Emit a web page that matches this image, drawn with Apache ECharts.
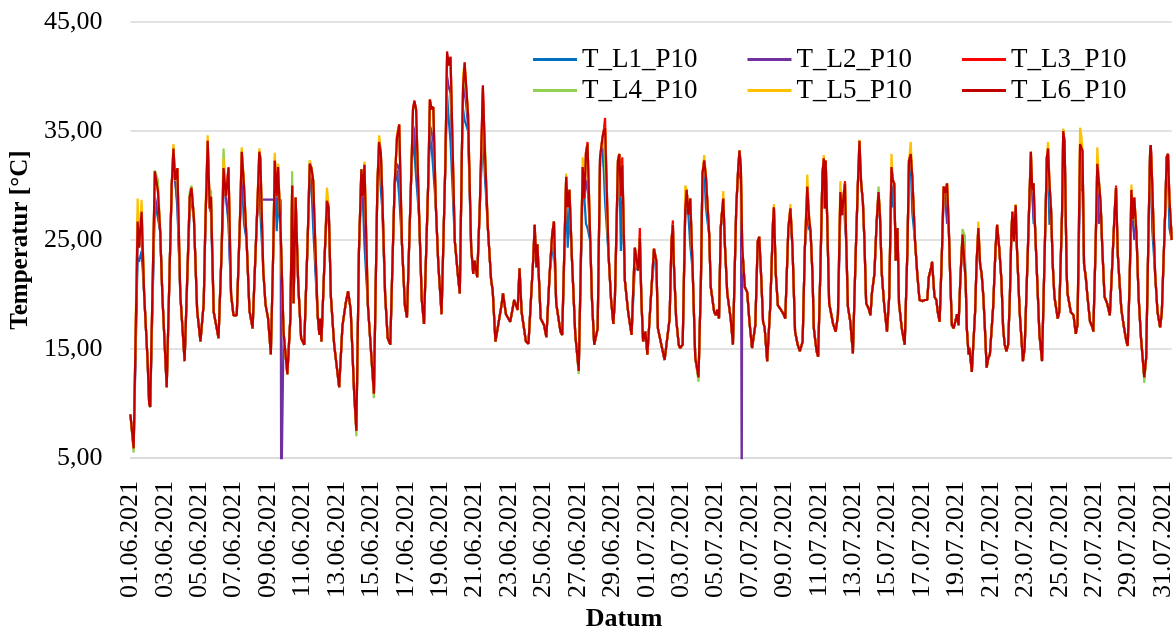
<!DOCTYPE html>
<html>
<head>
<meta charset="utf-8">
<title>Temperatur P10</title>
<script src="https://cdn.jsdelivr.net/npm/echarts@6/dist/echarts.min.js"></script>
<style>
  html, body { margin: 0; padding: 0; background: #fff; }
  #chart { width: 1176px; height: 637px; }
</style>
</head>
<body>
<div id="chart"></div>
<script>
// x = days since 01.06.2021 00:00, y = °C
const seriesNames = ["T_L1_P10", "T_L2_P10", "T_L3_P10", "T_L4_P10", "T_L5_P10", "T_L6_P10"];
const seriesColors = ["#0070C0", "#7030A0", "#FF0000", "#92D050", "#FFC000", "#C00000"];

const dateLabels = [
    "01.06.2021", "03.06.2021", "05.06.2021", "07.06.2021", "09.06.2021", "11.06.2021",
    "13.06.2021", "15.06.2021", "17.06.2021", "19.06.2021", "21.06.2021", "23.06.2021",
    "25.06.2021", "27.06.2021", "29.06.2021", "01.07.2021", "03.07.2021", "05.07.2021",
    "07.07.2021", "09.07.2021", "11.07.2021", "13.07.2021", "15.07.2021", "17.07.2021",
    "19.07.2021", "21.07.2021", "23.07.2021", "25.07.2021", "27.07.2021", "29.07.2021",
    "31.07.2021",
];

// T_L6_P10, the curve the other sensors follow
const courseL6 = [
    [0, 9.0], [0.19, 5.9], [0.42, 26.7], [0.5, 24.3], [0.65, 27.6], [0.8, 20.0],
    [1.0, 13.9], [1.09, 10.0], [1.15, 9.7], [1.42, 31.3], [1.6, 29.5], [1.73, 25.8], [1.86, 19.8],
    [2.11, 11.5], [2.4, 30.0], [2.5, 33.4], [2.6, 30.5], [2.73, 31.6], [2.9, 20.0],
    [3.15, 13.9], [3.45, 29.0], [3.55, 29.8], [3.69, 27.0], [3.88, 18.5],
    [4.07, 15.7], [4.26, 19.2], [4.36, 26.7], [4.49, 34.1], [4.61, 27.9], [4.68, 29.0], [4.84, 18.4],
    [5.12, 16.0], [5.3, 24.0], [5.41, 31.6], [5.55, 29.0], [5.7, 31.6], [5.85, 20.0],
    [5.99, 18.1], [6.18, 18.1], [6.35, 26.0], [6.47, 33.1], [6.6, 30.0], [6.75, 25.0], [6.92, 18.5],
    [7.1, 16.9], [7.35, 27.0], [7.49, 33.1], [7.55, 32.5], [7.72, 22.2], [7.85, 19.1],
    [8.0, 17.8], [8.16, 14.5], [8.3, 24.0], [8.39, 32.3], [8.5, 29.0], [8.58, 31.7], [8.73, 25.8], [8.9, 16.5],
    [9.12, 12.7], [9.3, 18.0], [9.4, 30.0], [9.48, 19.2], [9.6, 28.9], [9.75, 21.0], [9.92, 16.0],
    [10.1, 15.4], [10.3, 25.0], [10.42, 32.0], [10.52, 31.6], [10.62, 30.5], [10.88, 18.1], [10.98, 16.3], [11.04, 17.8],
    [11.1, 15.7], [11.3, 24.0], [11.42, 28.6], [11.52, 28.0], [11.65, 19.8], [11.84, 15.4],
    [12.13, 11.5], [12.32, 17.1], [12.51, 19.2], [12.65, 20.3], [12.8, 18.6], [13.0, 11.0],
    [13.13, 7.5], [13.28, 24.0], [13.42, 31.5], [13.5, 29.0], [13.6, 31.9], [13.8, 19.0],
    [14.15, 10.9], [14.35, 30.0], [14.45, 34.0], [14.55, 33.0], [14.63, 29.4], [14.8, 20.0], [14.95, 16.0],
    [15.1, 15.4], [15.35, 30.0], [15.49, 34.4], [15.62, 35.6], [15.78, 24.6], [15.95, 19.0],
    [16.07, 17.9], [16.3, 30.0], [16.42, 37.0], [16.5, 37.7], [16.6, 37.0], [16.78, 27.0], [16.93, 19.5],
    [17.06, 17.3], [17.3, 30.0], [17.4, 37.9], [17.5, 37.0], [17.6, 37.2], [17.75, 28.0], [17.89, 22.8],
    [18.08, 18.2], [18.3, 32.0], [18.4, 42.3], [18.5, 41.0], [18.6, 41.8], [18.85, 24.9], [19.04, 21.6],
    [19.14, 20.1], [19.28, 35.0], [19.33, 39.0], [19.42, 41.3], [19.62, 36.5], [19.8, 24.3], [19.92, 21.9], [20.0, 23.1],
    [20.15, 21.6], [20.3, 28.0], [20.48, 39.2], [20.6, 33.0], [20.77, 26.1], [20.96, 21.3], [21.05, 20.4],
    [21.21, 15.7], [21.38, 17.3], [21.57, 19.1], [21.65, 20.1], [21.82, 18.2],
    [22.07, 17.5], [22.3, 19.5], [22.5, 18.6], [22.61, 22.4], [22.73, 18.4], [22.98, 15.7],
    [23.13, 15.5], [23.4, 23.1], [23.49, 26.4], [23.59, 22.5], [23.65, 24.6], [23.84, 17.8], [24.03, 17.2],
    [24.17, 16.1], [24.36, 21.9], [24.51, 25.6], [24.61, 26.7], [24.74, 19.2], [24.99, 16.6],
    [25.09, 16.3], [25.32, 30.8], [25.41, 28.0], [25.51, 29.6], [25.66, 23.1], [25.85, 16.3],
    [26.05, 13.0], [26.28, 31.7], [26.38, 28.8], [26.47, 33.0], [26.56, 33.8], [26.72, 24.9], [26.82, 19.5], [26.95, 15.4],
    [27.15, 16.9], [27.29, 32.6], [27.43, 34.4], [27.5, 35.0], [27.58, 35.3], [27.78, 23.7], [27.93, 19.5],
    [28.06, 17.3], [28.15, 19.5], [28.33, 32.3], [28.41, 32.9], [28.5, 29.0], [28.58, 31.9], [28.73, 21.3], [28.92, 18.4],
    [29.12, 16.3], [29.31, 24.3], [29.5, 22.2], [29.6, 25.2], [29.69, 19.5], [29.79, 15.7], [29.92, 16.6],
    [30.04, 14.5], [30.27, 20.4], [30.42, 24.2], [30.56, 23.1], [30.65, 16.9], [30.85, 15.4],
    [31.04, 14.0], [31.33, 17.8], [31.44, 24.9], [31.52, 26.4], [31.57, 23.1], [31.71, 17.8], [31.86, 15.4], [31.94, 15.1],
    [32.09, 15.4], [32.24, 27.9], [32.32, 29.6], [32.42, 27.3], [32.53, 28.8], [32.67, 22.2], [32.82, 14.2],
    [33.01, 12.4], [33.15, 21.3], [33.24, 31.1], [33.34, 32.3], [33.44, 30.8], [33.53, 30.8], [33.63, 25.5], [33.72, 20.7], [33.92, 18.4],
    [34.02, 18.1], [34.1, 18.6], [34.2, 17.8], [34.3, 26.1], [34.36, 27.3], [34.45, 28.8], [34.55, 24.3], [34.68, 20.1], [34.88, 17.8],
    [35.01, 15.4], [35.2, 27.9], [35.32, 31.7], [35.39, 33.2], [35.47, 31.7], [35.55, 24.3], [35.7, 20.7], [35.84, 20.2], [35.97, 17.5],
    [36.12, 15.1], [36.31, 17.2], [36.45, 24.9], [36.54, 25.3], [36.66, 21.3], [36.76, 17.5], [36.85, 17.0],
    [37.0, 13.9], [37.18, 19.0], [37.34, 26.7], [37.39, 28.0], [37.5, 21.9], [37.62, 19.0], [37.76, 18.7], [37.95, 18.2],
    [38.05, 17.8], [38.23, 26.1], [38.35, 27.9], [38.47, 24.3], [38.62, 16.6], [38.77, 15.4], [38.9, 14.8],
    [39.06, 15.7], [39.19, 24.3], [39.33, 29.9], [39.44, 26.9], [39.52, 25.8], [39.63, 21.9], [39.71, 16.9], [39.87, 14.8], [39.96, 14.3],
    [40.1, 22.8], [40.21, 31.1], [40.29, 32.5], [40.35, 27.9], [40.4, 32.3], [40.48, 27.3], [40.6, 19.2], [40.83, 17.3], [40.98, 16.6],
    [41.11, 18.1], [41.25, 29.4], [41.36, 27.3], [41.44, 29.1], [41.52, 30.2], [41.59, 24.9], [41.69, 18.9], [41.83, 17.5], [41.98, 14.6],
    [42.13, 23.1], [42.27, 30.2], [42.36, 34.1], [42.46, 30.2], [42.56, 28.5], [42.65, 24.9], [42.75, 19.2], [42.9, 18.7], [43.0, 18.1],
    [43.09, 20.2], [43.23, 21.9], [43.36, 26.7], [43.47, 29.4], [43.55, 27.3], [43.66, 21.9], [43.8, 19.0], [43.96, 16.6],
    [44.09, 19.8], [44.22, 31.7], [44.3, 30.5], [44.38, 30.2], [44.47, 23.1], [44.57, 26.1], [44.66, 19.2], [44.82, 16.9], [44.99, 15.4],
    [45.15, 24.3], [45.24, 32.3], [45.34, 32.9], [45.43, 30.8], [45.59, 24.9], [45.72, 21.9], [45.85, 19.5], [46.0, 19.4],
    [46.16, 19.5], [46.3, 19.5], [46.39, 21.6], [46.53, 22.5], [46.58, 23.0], [46.72, 19.8], [46.83, 19.5], [46.91, 18.4],
    [47.02, 17.5], [47.16, 24.3], [47.25, 29.9], [47.35, 29.3], [47.45, 30.2], [47.54, 26.7], [47.64, 21.3], [47.73, 17.2], [47.83, 16.9], [47.93, 17.5],
    [48.03, 18.2], [48.12, 17.2], [48.22, 21.3], [48.35, 25.5], [48.45, 25.5], [48.53, 21.3], [48.6, 16.9], [48.7, 14.5], [48.75, 15.1], [48.89, 12.9],
    [49.08, 18.4], [49.17, 23.1], [49.27, 26.1], [49.37, 22.8], [49.46, 21.9], [49.56, 19.8], [49.65, 16.9], [49.75, 13.3], [49.85, 14.2], [49.94, 14.5],
    [50.13, 18.9], [50.27, 24.3], [50.36, 26.4], [50.48, 24.3], [50.61, 21.3], [50.71, 16.9], [50.8, 15.4], [50.9, 14.8], [51.0, 15.4],
    [51.1, 19.8], [51.19, 25.8], [51.25, 27.6], [51.33, 24.9], [51.44, 28.2], [51.51, 24.3], [51.67, 18.4], [51.86, 13.9], [51.96, 15.1],
    [52.15, 24.3], [52.25, 29.6], [52.32, 33.1], [52.4, 29.6], [52.48, 30.2], [52.55, 26.7], [52.69, 21.3], [52.82, 16.3], [52.97, 13.9],
    [53.13, 24.3], [53.25, 32.6], [53.32, 33.4], [53.4, 30.2], [53.49, 27.9], [53.59, 22.8], [53.69, 19.8], [53.78, 19.8], [53.88, 17.8], [53.97, 18.4],
    [54.13, 27.3], [54.2, 35.0], [54.28, 34.0], [54.4, 22.0], [54.45, 20.1], [54.64, 18.4], [54.8, 18.1], [54.93, 16.4],
    [55.03, 17.2], [55.18, 33.8], [55.26, 33.8], [55.32, 33.2], [55.41, 22.8], [55.51, 21.6], [55.61, 19.8], [55.76, 17.5], [55.9, 17.0], [55.95, 16.6],
    [56.08, 24.3], [56.18, 32.0], [56.28, 30.2], [56.37, 28.5], [56.47, 24.3], [56.6, 19.8], [56.75, 19.2], [56.91, 18.1],
    [57.05, 22.8], [57.18, 27.3], [57.27, 29.8], [57.37, 23.7], [57.49, 20.7], [57.58, 18.6], [57.71, 17.2], [57.87, 15.7], [57.95, 15.3],
    [58.06, 21.3], [58.16, 29.6], [58.25, 26.9], [58.33, 28.9], [58.45, 25.8], [58.58, 19.8], [58.72, 16.0], [58.83, 13.9], [58.91, 12.4], [59.02, 14.2],
    [59.16, 26.1], [59.25, 33.2], [59.29, 33.7], [59.37, 30.2], [59.45, 26.1], [59.54, 21.9], [59.68, 18.4], [59.83, 17.0], [59.93, 18.4],
    [60.12, 27.3], [60.21, 32.6], [60.29, 32.9], [60.37, 28.8], [60.47, 26.1], [60.5, 25.0],
];

// where the other sensors leave the L6 curve (mostly the daily peaks)
const peaksL1 = [
    [0.42, 23.4], [0.5, 23.0], [0.65, 24.0], [1.42, 28.5], [1.6, 27.0], [2.5, 32.5], [2.73, 28.0],
    [3.45, 28.0], [3.55, 28.5], [4.49, 33.0], [4.68, 27.5], [5.41, 29.5], [5.7, 26.5], [6.47, 31.0], [6.6, 26.5],
    [7.49, 30.5], [7.55, 27.5], [8.39, 31.5], [8.5, 25.8], [8.58, 29.0], [9.4, 29.0], [9.6, 27.5],
    [10.42, 31.0], [10.52, 30.0], [10.62, 26.1], [11.42, 27.5], [13.42, 30.0], [13.6, 24.5],
    [14.45, 33.0], [14.55, 29.5], [14.63, 28.0], [15.49, 31.4], [15.62, 29.0],
    [16.42, 34.7], [16.5, 33.0], [16.6, 30.8], [17.4, 34.7], [17.5, 33.5], [17.6, 31.4],
    [18.4, 38.3], [18.5, 36.0], [18.6, 34.0], [19.33, 37.0], [19.42, 36.0], [19.62, 35.0],
    [20.48, 34.7], [20.6, 30.8], [23.49, 25.0], [24.51, 24.0], [24.61, 24.5],
    [25.32, 29.5], [25.41, 24.3], [25.51, 28.0], [26.28, 30.5], [26.47, 26.5], [26.56, 26.1],
    [27.43, 33.0], [27.5, 31.5], [27.58, 28.5], [28.33, 31.0], [28.41, 31.5], [28.5, 24.0], [28.58, 29.0],
    [29.31, 22.5], [29.6, 24.5], [30.42, 23.0], [31.52, 25.0], [32.32, 28.0], [32.53, 24.5],
    [33.34, 31.5], [33.44, 28.0], [33.53, 26.7], [34.45, 27.5], [35.39, 31.0], [35.47, 30.5],
    [36.54, 24.5], [37.39, 27.5], [38.35, 27.0], [39.33, 28.0], [39.44, 26.0], [40.29, 31.5], [40.4, 31.0],
    [41.25, 28.0], [41.52, 27.5], [42.36, 33.0], [43.47, 28.0], [44.22, 30.0], [44.3, 28.0],
    [45.34, 32.0], [45.43, 27.5], [47.25, 29.0], [47.45, 27.0], [48.35, 25.0], [49.27, 25.0], [50.36, 25.5],
    [51.25, 26.5], [51.44, 26.0], [52.32, 30.5], [52.48, 26.5], [53.32, 31.5], [53.4, 26.4], [54.2, 33.5],
    [55.18, 32.0], [55.26, 30.0], [55.32, 29.5], [56.18, 30.0], [56.28, 26.5], [57.27, 29.0],
    [58.16, 28.0], [58.33, 25.5], [59.29, 32.0], [59.37, 26.0], [60.29, 31.0], [60.37, 26.1],
];
const peaksL2 = [
    [0.42, 25.0], [0.65, 25.5], [1.42, 29.0], [1.6, 27.5], [2.5, 32.8], [2.73, 28.5], [4.49, 33.5],
    [5.41, 30.0], [5.7, 27.0], [6.47, 31.5], [6.6, 28.0],
    // sensor stuck at 28,7 °C
    [7.49, 28.7], [7.55, 28.7], [7.72, 28.7], [7.85, 28.7], [8.0, 28.7], [8.16, 28.7], [8.3, 28.7],
    [8.39, 28.7], [8.5, 28.7], [8.58, 28.7], [8.73, 28.7],
    [10.62, 28.0], [13.6, 27.0], [15.49, 32.0], [15.62, 31.5], [16.42, 35.5], [16.5, 35.0], [16.6, 33.0],
    [17.4, 35.5], [17.5, 35.0], [17.6, 34.0], [18.4, 40.0], [18.5, 39.0], [18.6, 38.5],
    [19.33, 38.0], [19.42, 39.0], [19.62, 35.5], [20.48, 36.5], [20.6, 32.0], [26.47, 30.0], [26.56, 30.5],
    [27.43, 33.5], [27.5, 33.0], [27.58, 31.5], [39.33, 27.0], [41.25, 27.5], [41.52, 26.5], [42.36, 32.5],
    [47.25, 29.0], [47.45, 26.5], [51.44, 26.0], [52.32, 31.0], [52.48, 27.0], [53.32, 31.0],
    [55.18, 31.0], [55.26, 29.5], [56.28, 26.5], [58.16, 27.5], [58.33, 25.0],
];
const dropoutsL2 = [[8.76, 0], [35.52, 0]];
const peaksL3 = [
    [0.65, 27.8], [5.7, 31.7], [13.6, 32.0], [15.62, 35.6], [16.5, 37.8], [18.4, 42.0], [19.42, 41.0],
    [20.48, 39.0], [26.56, 34.0], [27.58, 36.2], [28.58, 32.6], [29.6, 26.1], [31.52, 26.8],
    [41.52, 30.4], [44.22, 31.5], [57.27, 30.0], [59.29, 33.7],
];
const peaksL4 = [
    [0.19, 5.5], [0.42, 27.5], [0.65, 28.2], [1.42, 31.4], [1.6, 30.5], [2.5, 33.6], [2.73, 30.5],
    [3.45, 29.5], [3.55, 30.0], [4.68, 29.6], [5.41, 33.4], [5.7, 30.5], [6.47, 33.3],
    [8.39, 32.6], [8.58, 32.0], [9.4, 31.3], [10.42, 32.3], [11.42, 29.3], [13.13, 7.0], [14.15, 10.5],
    [14.45, 34.5], [15.49, 34.6], [15.62, 34.8], [16.5, 37.2], [17.4, 37.5], [18.4, 41.5], [18.6, 41.3],
    [19.42, 40.0], [20.48, 37.5], [20.6, 34.0], [26.05, 12.7], [27.58, 35.0], [33.01, 12.0],
    [39.33, 29.5], [43.47, 29.9], [48.35, 26.0], [54.2, 35.2], [56.28, 30.5], [58.33, 27.3],
    [58.91, 11.9], [59.29, 33.0], [60.29, 31.5],
];
const peaksL5 = [
    [0.42, 28.8], [0.65, 28.7], [1.42, 30.8], [2.5, 33.8], [4.36, 27.7], [4.49, 34.6], [5.41, 32.5],
    [6.47, 33.5], [7.49, 33.4], [8.39, 33.0], [8.58, 32.0], [10.42, 32.3], [11.42, 29.8], [13.6, 32.2],
    [14.45, 34.6], [15.49, 34.8], [16.5, 37.5], [18.4, 41.8], [19.33, 40.2], [20.48, 38.0],
    [23.49, 26.0], [25.32, 31.1], [26.28, 32.6], [28.33, 32.5], [32.24, 30.0], [33.34, 32.8],
    [34.45, 29.5], [37.39, 28.3], [38.35, 28.3], [39.33, 31.0], [40.29, 32.8], [41.25, 30.4],
    [42.36, 34.2], [44.22, 32.9], [45.34, 34.0], [49.27, 26.7], [51.44, 28.3], [53.32, 34.0],
    [54.2, 35.2], [55.18, 35.3], [55.26, 34.5], [56.18, 33.5], [58.16, 30.1], [59.29, 33.5],
];

function withPeaks(peaks, extra = []) {
    const m = new Map(peaks);
    return courseL6
        .map(([t, v]) => [t, m.has(t) ? m.get(t) : v])
        .concat(extra)
        .sort((a, b) => a[0] - b[0]);
}

const seriesData = [
    withPeaks(peaksL1),
    withPeaks(peaksL2, dropoutsL2),
    withPeaks(peaksL3),
    withPeaks(peaksL4),
    withPeaks(peaksL5),
    courseL6,
];

const font = "'Liberation Serif', 'Times New Roman', serif";

const chart = echarts.init(document.getElementById("chart"));
const legendBase = {
    orient: "horizontal",
    left: 528,
    itemWidth: 44,
    itemHeight: 3,
    itemGap: 50,
    icon: "rect",
    textStyle: { color: "#000", fontSize: 27, fontFamily: font },
};

const option = {
    backgroundColor: "#fff",
    animation: false,
    textStyle: { fontFamily: font },
    legend: [
        { ...legendBase, top: 41, data: seriesNames.slice(0, 3) },
        { ...legendBase, top: 72, data: seriesNames.slice(3) },
    ],
    grid: {
        left: 126,
        right: 0,
        top: 22,
        bottom: 169,
        containLabel: false,
    },
    xAxis: {
        type: "value",
        min: 0,
        max: 60.5,
        interval: 2,
        name: "Datum",
        nameLocation: "middle",
        nameGap: 144,
        nameTextStyle: {
            color: "#000",
            fontSize: 26,
            fontWeight: "bold",
            fontFamily: font,
            padding: [0, 54, 0, 0],
        },
        axisLine: { show: true, lineStyle: { color: "#d9d9d9", width: 1.5 } },
        axisTick: { show: false },
        splitLine: { show: false },
        axisLabel: {
            rotate: 90,
            margin: 23,
            color: "#000",
            fontSize: 26,
            fontFamily: font,
            showMaxLabel: false,
            formatter(value) {
                return dateLabels[value / 2] || "";
            },
        },
    },
    yAxis: {
        type: "value",
        min: 5,
        max: 45,
        interval: 10,
        name: "Temperatur [°C]",
        nameLocation: "middle",
        nameRotate: 90,
        nameGap: 90,
        nameTextStyle: {
            color: "#000",
            fontSize: 25,
            fontWeight: "bold",
            fontFamily: font,
        },
        axisLine: { show: false },
        axisTick: { show: false },
        axisLabel: {
            margin: 28,
            color: "#000",
            fontSize: 26,
            fontFamily: font,
            formatter(value) {
                return value.toFixed(2).replace(".", ",");
            },
        },
        splitLine: { lineStyle: { color: "#d9d9d9", width: 1.5 } },
    },
    series: seriesNames.map((name, i) => ({
        name,
        type: "line",
        data: seriesData[i],
        showSymbol: false,
        symbol: "none",
        clip: true,
        color: seriesColors[i],
        lineStyle: { color: seriesColors[i], width: 2.2 },
        z: 2 + i,
    })),
};
chart.setOption(option);
</script>
</body>
</html>
